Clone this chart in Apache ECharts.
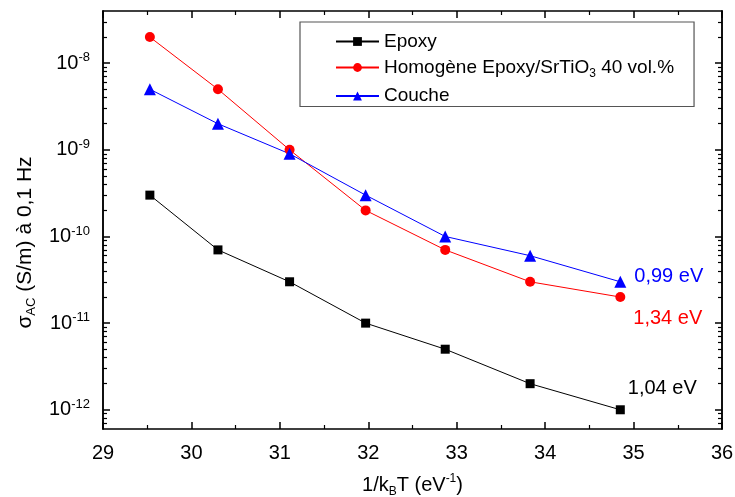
<!DOCTYPE html>
<html><head><meta charset="utf-8">
<script src="https://cdn.jsdelivr.net/npm/echarts@6/dist/echarts.min.js"></script>
<style>html,body{margin:0;padding:0;background:#fff}#c{width:735px;height:497px}</style>
</head><body><div id="c"></div>
<script>
// 1/kBT (eV^-1)
const xValues = [29.53, 30.30, 31.11, 31.97, 32.87, 33.83, 34.85];
// sigma_AC (S/m) at 0.1 Hz
const epoxy    = [3e-10, 7e-11, 3e-11, 1e-11, 5e-12, 2e-12, 1e-12];
const homogene = [2e-8, 5e-9, 1e-9, 2e-10, 7e-11, 3e-11, 2e-11];
const couche   = [5e-9, 2e-9, 9e-10, 3e-10, 1e-10, 6e-11, 3e-11];
const seriesNames = ['Epoxy', 'Homogène Epoxy/SrTiO3 40 vol.%', 'Couche'];
const energyLabels = ['1,04 eV', '1,34 eV', '0,99 eV'];
const xTicks = [29, 30, 31, 32, 33, 34, 35, 36];
const yDecades = [-12, -11, -10, -9, -8];
const yRange = [6e-13, 4e-8];

const FONT = 'Liberation Sans, Arial, sans-serif';
const yMin = Math.log10(yRange[0]), yMax = Math.log10(yRange[1]);
const yMinor = [];
for (let n = -13; n <= -8; n++) for (let k = 2; k <= 9; k++) {
  const v = n + Math.log10(k);
  if (v > yMin && v < yMax) yMinor.push(v);
}

function makeData(vals, lab, color, offset) {
  return vals.map((v, i) => {
    const p = [xValues[i], Math.log10(v)];
    if (i === vals.length - 1) {
      return { value: p, label: { show: true, position: 'right', distance: 8, formatter: lab,
        color: color, fontSize: 20, fontFamily: FONT, offset: offset } };
    }
    return p;
  });
}

const chart = echarts.init(document.getElementById('c'), null, { renderer: 'canvas' });

const yLabelFmt = v => '{b|10}{s|' + Math.round(v) + '}';
const baseY = {
  type: 'value', min: yMin, max: yMax, scale: true,
  axisLine: { show: true, onZero: false, lineStyle: { color: '#000', width: 1.5 } },
  splitLine: { show: false }
};
const yAxes = [
  Object.assign({}, baseY, {
    position: 'left',
    name: '{t|σ}{sub|AC}{t| (S/m) à 0,1 Hz}', nameLocation: 'middle', nameGap: 65,
    nameTextStyle: { padding: [0, 45, 0, 0], rich: {
      t: { fontSize: 21, fontFamily: FONT, color: '#000' },
      sub: { fontSize: 13, fontFamily: FONT, color: '#000', verticalAlign: 'bottom', padding: [12, 0, 0, 0] } } },
    axisTick: { show: true, inside: true, length: 7, customValues: yDecades, lineStyle: { color: '#000', width: 1.5 } },
    axisLabel: { show: true, customValues: yDecades, formatter: yLabelFmt, margin: 13, rich: {
      b: { fontSize: 20, fontFamily: FONT, color: '#000' },
      s: { fontSize: 13, fontFamily: FONT, color: '#000', verticalAlign: 'top', padding: [0, 0, 11, 0] } } }
  }),
  Object.assign({}, baseY, {
    position: 'left',
    axisTick: { show: true, inside: true, length: 4, customValues: yMinor, lineStyle: { color: '#000', width: 1.2 } },
    axisLabel: { show: false }
  }),
  Object.assign({}, baseY, {
    position: 'right',
    axisTick: { show: true, inside: true, length: 7, customValues: yDecades, lineStyle: { color: '#000', width: 1.5 } },
    axisLabel: { show: false }
  }),
  Object.assign({}, baseY, {
    position: 'right',
    axisTick: { show: true, inside: true, length: 4, customValues: yMinor, lineStyle: { color: '#000', width: 1.2 } },
    axisLabel: { show: false }
  })
];

const baseX = {
  type: 'value', min: xTicks[0], max: xTicks[xTicks.length - 1], interval: 1,
  axisLine: { show: true, onZero: false, lineStyle: { color: '#000', width: 1.5 } },
  axisTick: { show: true, inside: true, length: 7, lineStyle: { color: '#000', width: 1.5 } },
  minorTick: { show: true, splitNumber: 2, length: 4, lineStyle: { color: '#000', width: 1.2 } },
  splitLine: { show: false }, minorSplitLine: { show: false }
};

const option = {
  backgroundColor: '#fff',
  animation: false,
  grid: { left: 103, right: 13, top: 11, bottom: 68, containLabel: false, outerBoundsMode: 'none' },
  legend: {
    orient: 'vertical', left: 300, top: 22,
    padding: [10, 20, 1, 35], itemGap: 7,
    backgroundColor: '#fff', borderColor: '#555', borderWidth: 1.2,
    itemWidth: 43, itemHeight: 11,
    data: seriesNames,
    formatter: n => n === seriesNames[1] ? '{t|Homogène Epoxy/SrTiO}{sub|3}{t| 40 vol.%}' : '{t|' + n + '}',
    textStyle: { rich: {
      t: { fontSize: 19, fontFamily: FONT, color: '#000' },
      sub: { fontSize: 12, fontFamily: FONT, color: '#000', verticalAlign: 'bottom', padding: [12, 0, 0, 0] } } }
  },
  xAxis: [
    Object.assign({}, baseX, {
      position: 'bottom',
      name: '{t|1/k}{sub|B}{t|T (eV}{sup|-1}{t|)}', nameLocation: 'middle', nameGap: 44,
      nameTextStyle: { rich: {
        t: { fontSize: 20, fontFamily: FONT, color: '#000' },
        sub: { fontSize: 12, fontFamily: FONT, color: '#000', verticalAlign: 'bottom', padding: [13, 0, 0, 0] },
        sup: { fontSize: 12, fontFamily: FONT, color: '#000', verticalAlign: 'top', padding: [0, 0, 11, 0] } } },
      axisLabel: { show: true, fontSize: 20, fontFamily: FONT, color: '#000', margin: 14 }
    }),
    Object.assign({}, baseX, { position: 'top', axisLabel: { show: false } })
  ],
  yAxis: yAxes,
  series: [
    { name: seriesNames[0], type: 'line', xAxisIndex: 0, yAxisIndex: 0,
      symbol: 'rect', symbolSize: 9, color: '#000', lineStyle: { width: 1, color: '#000' },
      data: makeData(epoxy, energyLabels[0], '#000', [-5, -21]) },
    { name: seriesNames[1], type: 'line', xAxisIndex: 0, yAxisIndex: 0,
      symbol: 'circle', symbolSize: 10, color: '#ff0000', lineStyle: { width: 1, color: '#ff0000' },
      data: makeData(homogene, energyLabels[1], '#ff0000', [0, 21]) },
    { name: seriesNames[2], type: 'line', xAxisIndex: 0, yAxisIndex: 0,
      symbol: 'triangle', symbolSize: 12, color: '#0000ff', lineStyle: { width: 1, color: '#0000ff' },
      data: makeData(couche, energyLabels[2], '#0000ff', [0, -5]) }
  ]
};
chart.setOption(option);
</script></body></html>
